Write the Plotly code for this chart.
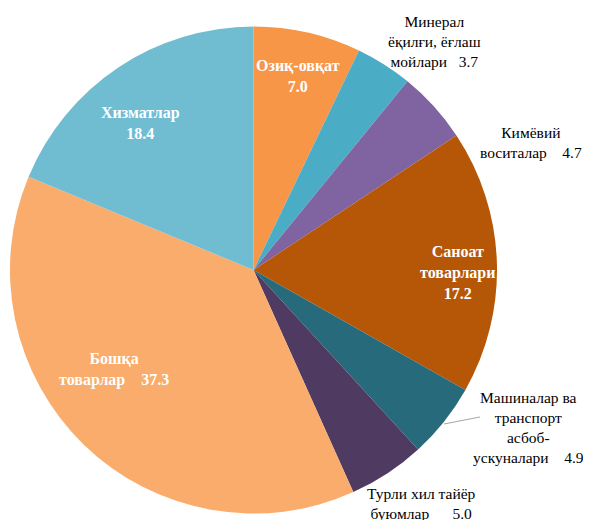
import plotly.graph_objects as go

categories = ["Озиқ-овқат", "Минерал ёқилғи, ёғлаш мойлари", "Кимёвий воситалар",
              "Саноат товарлари", "Машиналар ва транспорт асбоб-ускуналари",
              "Турли хил тайёр буюмлар", "Бошқа товарлар", "Хизматлар"]
values = [7.0, 3.7, 4.7, 17.2, 4.9, 5.0, 37.3, 18.4]
colors = ["#F79646", "#4BACC6", "#8064A2", "#B65708", "#276A7C", "#4F3B62", "#F9AC6B", "#70BDD2"]

label_texts = [
    "<b>Озиқ-овқат<br>7.0</b>",
    "Минерал<br>ёқилғи, ёғлаш<br>мойлари   3.7",
    "Кимёвий<br>воситалар    4.7",
    "<b>Саноат<br>товарлари<br>17.2</b>",
    "Машиналар ва<br>транспорт<br>асбоб-<br>ускуналари    4.9",
    "Турли хил тайёр<br>буюмлар      5.0",
    "<b>Бошқа<br>товарлар    37.3</b>",
    "<b>Хизматлар<br>18.4</b>",
]
label_inside = [True, False, False, True, False, False, True, True]
# anchor point (x, y) in page pixels and horizontal anchor
label_pos = [(298, 76), (434, 42), (584, 142), (457, 272), (586, 427), (421, 503), (114, 369), (140, 123)]
label_anchor = ["center", "center", "right", "center", "right", "center", "center", "center"]

W, H = 591, 520
OFF = 8  # page body margin
cx, cy, r = 253.5 - OFF, 270 - OFF, 243.5

def px(x):
    return (x - OFF) / W

def py(y):
    return 1 - (y - OFF) / H

FONT = "Liberation Serif"

fig = go.Figure(go.Pie(
    labels=categories, values=values, sort=False, direction="clockwise", rotation=0,
    marker=dict(colors=colors, line=dict(width=0)),
    textinfo="none", hoverinfo="label+value", showlegend=False,
    domain=dict(x=[(cx - r) / W, (cx + r) / W], y=[1 - (cy + r) / H, 1 - (cy - r) / H]),
))

for txt, inside, (lx, ly), anc in zip(label_texts, label_inside, label_pos, label_anchor):
    fig.add_annotation(
        x=px(lx), y=py(ly), xref="paper", yref="paper", text=txt, showarrow=False,
        xanchor=anc, yanchor="middle", align="center",
        font=dict(family=FONT, size=16 if inside else 15.5, color="white" if inside else "black"),
    )

fig.add_shape(type="line", xref="paper", yref="paper",
              x0=px(444), y0=py(424), x1=px(480), y1=py(417),
              line=dict(color="#A6A6A6", width=1))

fig.update_layout(width=W, height=H, margin=dict(l=0, r=0, t=0, b=0),
                  paper_bgcolor="white", plot_bgcolor="white",
                  font=dict(family=FONT))
fig.write_html("out.html")
